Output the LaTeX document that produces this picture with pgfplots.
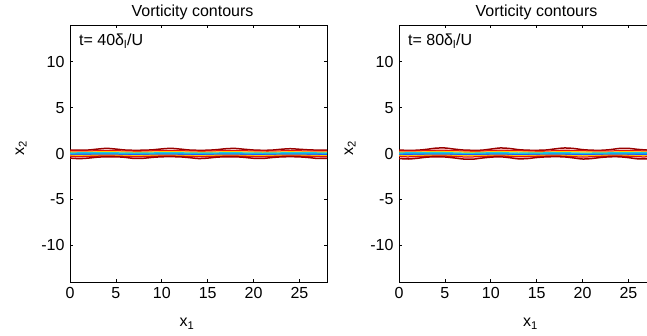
\documentclass[border=0pt]{standalone}
\usepackage{fontspec}
\setmainfont{Liberation Sans}
\usepackage{pgfplots}
\pgfplotsset{compat=1.18}
\definecolor{dkred}{rgb}{0.6,0,0}
\definecolor{cred}{rgb}{0.9,0.05,0.05}
\definecolor{cyel}{rgb}{1,0.8,0}
\definecolor{ccyan}{rgb}{0.1,0.8,0.85}
\definecolor{cblue}{rgb}{0.1,0.35,1}
\pgfplotsset{myax/.style={
  scale only axis, width=257pt, height=257pt,
  xmin=0, xmax=28, ymin=-14, ymax=14,
  xtick={0,5,10,15,20,25}, ytick={-10,-5,0,5,10},
  tick align=inside, major tick length=3pt,
  axis line style={line width=0.9pt}, every tick/.style={line width=0.6pt, black},
  /pgf/number format/assume math mode=true,
  tick label style={font=\fontsize{16}{18}\selectfont},
  xticklabel style={yshift=-2pt},
  yticklabel style={xshift=-2pt},
  label style={font=\fontsize{16}{18}\selectfont},
  title style={font=\fontsize{16}{18}\selectfont, yshift=-4pt},
  title={Vorticity contours},
  xlabel={x\textsubscript{1}}, ylabel={x\textsubscript{2}},
  ylabel style={at={(axis description cs:-0.19,0.52)}, anchor=center},
  clip=true,
  every axis plot/.append style={line width=1.25pt, smooth, no markers},
}}
\begin{document}
\begin{tikzpicture}
\useasboundingbox (0,0) rectangle (647pt,336pt);
% ---------- left panel ----------
\begin{axis}[myax, at={(70pt,54pt)}, anchor=south west,
  title style={xshift=-6pt}, xlabel style={at={(axis description cs:0.455,-0.162)}, anchor=center}]
\addplot[dkred, line width=1.5pt] coordinates {(0,0.38)(1,0.36)(2,0.38)(3,0.48)(4,0.56)(5,0.48)(6,0.38)(7,0.35)(8,0.36)(9,0.4)(10,0.5)(11,0.56)(12,0.48)(13,0.38)(14,0.35)(15,0.36)(16,0.42)(17,0.52)(18,0.55)(19,0.46)(20,0.38)(21,0.35)(22,0.37)(23,0.46)(24,0.52)(25,0.46)(26,0.4)(27,0.37)(28,0.38)};
\addplot[cred] coordinates {(0,0.27)(2,0.27)(4,0.34)(6,0.27)(8,0.26)(11,0.34)(13,0.27)(15,0.26)(17.5,0.33)(20,0.27)(22,0.26)(24,0.31)(26,0.27)(28,0.27)};
\addplot[cyel] coordinates {(0,0.15)(2,0.15)(4,0.2)(6,0.15)(8,0.14)(11,0.2)(13,0.15)(15,0.14)(17.5,0.19)(20,0.15)(22,0.14)(24,0.18)(26,0.15)(28,0.15)};
\addplot[ccyan, line width=1.8pt] coordinates {(0,0.03)(4,0.06)(7,0.01)(11,0.06)(14,0.01)(17.5,0.05)(21,0.01)(24,0.05)(28,0.03)};
\addplot[cblue] coordinates {(0,-0.1)(4,-0.08)(7,-0.12)(11,-0.08)(14,-0.12)(17.5,-0.08)(21,-0.12)(24,-0.08)(28,-0.1)};
\addplot[cyel] coordinates {(0,-0.2)(1,-0.23)(4,-0.18)(7,-0.24)(10,-0.18)(14,-0.24)(17,-0.18)(20.5,-0.24)(24,-0.18)(27.5,-0.24)(28,-0.23)};
\addplot[cred] coordinates {(0,-0.3)(1,-0.35)(4,-0.27)(7.3,-0.35)(10.5,-0.27)(14.2,-0.35)(17.5,-0.27)(20.7,-0.35)(24,-0.27)(27.6,-0.35)(28,-0.34)};
\addplot[dkred, line width=1.5pt] coordinates {(0,-0.5)(1,-0.56)(2,-0.5)(3,-0.4)(4,-0.36)(5,-0.36)(6,-0.42)(7,-0.54)(8,-0.52)(9,-0.42)(10,-0.36)(11,-0.35)(12,-0.37)(13,-0.45)(14,-0.55)(15,-0.5)(16,-0.4)(17,-0.36)(18,-0.36)(19,-0.42)(20,-0.52)(21,-0.54)(22,-0.44)(23,-0.37)(24,-0.35)(25,-0.37)(26,-0.44)(27,-0.54)(28,-0.52)};
\node[anchor=north west, inner sep=0pt, font=\fontsize{16}{18}\selectfont] at (rel axis cs:0.035,0.965) {t= 40δ\textsubscript{l}/U};
\end{axis}
% ---------- right panel ----------
\begin{axis}[myax, at={(399pt,54pt)}, anchor=south west,
  title style={xshift=9pt}, xlabel style={at={(axis description cs:0.512,-0.162)}, anchor=center}]
\addplot[dkred, line width=1.5pt] coordinates {(0,0.36)(1,0.35)(2,0.36)(3,0.45)(4,0.58)(5,0.6)(6,0.48)(7,0.38)(8,0.35)(9,0.36)(10,0.48)(11,0.6)(12,0.55)(13,0.42)(14,0.36)(15,0.35)(16,0.38)(17,0.5)(18,0.6)(19,0.55)(20,0.42)(21,0.36)(22,0.35)(23,0.42)(24,0.55)(25,0.56)(26,0.45)(27,0.38)(28,0.36)};
\addplot[cred] coordinates {(0,0.27)(2,0.27)(4.5,0.36)(7,0.27)(9,0.26)(11,0.36)(14,0.27)(16,0.26)(18,0.35)(21,0.27)(23,0.27)(24.5,0.33)(27,0.27)(28,0.27)};
\addplot[cyel] coordinates {(0,0.15)(2,0.15)(4.5,0.21)(7,0.15)(9,0.14)(11,0.21)(14,0.15)(16,0.14)(18,0.2)(21,0.15)(23,0.14)(24.5,0.19)(27,0.15)(28,0.15)};
\addplot[ccyan, line width=1.8pt] coordinates {(0,0.03)(4.5,0.07)(7.5,0.0)(11,0.07)(13,0.01)(18,0.06)(20,0.0)(24.5,0.06)(28,0.03)};
\addplot[cblue] coordinates {(0,-0.1)(4.5,-0.07)(7.5,-0.13)(11,-0.07)(13,-0.13)(18,-0.08)(20,-0.13)(24.5,-0.08)(28,-0.1)};
\addplot[cyel] coordinates {(0,-0.21)(1,-0.24)(4.5,-0.18)(7.5,-0.26)(11,-0.18)(13,-0.25)(17,-0.18)(20,-0.26)(23.5,-0.18)(26.5,-0.25)(28,-0.22)};
\addplot[cred] coordinates {(0,-0.32)(1,-0.37)(4.5,-0.27)(7.5,-0.38)(11,-0.27)(13,-0.36)(17,-0.27)(20,-0.38)(23.5,-0.27)(26.5,-0.37)(28,-0.33)};
\addplot[dkred, line width=1.5pt] coordinates {(0,-0.55)(1,-0.6)(2,-0.52)(3,-0.4)(4,-0.36)(5,-0.38)(6,-0.48)(7,-0.6)(8,-0.62)(9,-0.5)(10,-0.4)(11,-0.36)(12,-0.45)(13,-0.58)(14,-0.55)(15,-0.44)(16,-0.37)(17,-0.35)(18,-0.37)(19,-0.48)(20,-0.6)(21,-0.55)(22,-0.43)(23,-0.36)(24,-0.36)(25,-0.45)(26,-0.58)(27,-0.58)(28,-0.5)};
\node[anchor=north west, inner sep=0pt, font=\fontsize{16}{18}\selectfont] at (rel axis cs:0.035,0.965) {t= 80δ\textsubscript{l}/U};
\end{axis}
\end{tikzpicture}
\end{document}
